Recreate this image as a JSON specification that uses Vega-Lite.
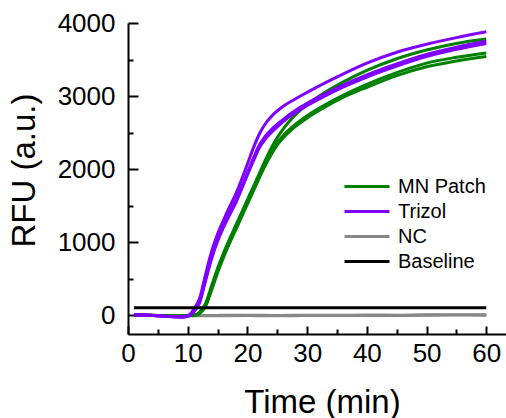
{
  "$schema": "https://vega.github.io/schema/vega-lite/v6.json",
  "width": 378,
  "height": 311,
  "autosize": "none",
  "padding": {"left": 128, "top": 23, "right": 0, "bottom": 84},
  "background": "white",
  "config": {
    "view": {"stroke": null},
    "font": "Liberation Sans",
    "axis": {"grid": false, "domainColor": "black", "domainWidth": 2, "tickColor": "black", "tickWidth": 2, "labelColor": "black", "titleColor": "black", "labelFont": "Liberation Sans", "titleFont": "Liberation Sans", "labelFontSize": 26, "titleFontSize": 33, "titleFontWeight": "normal", "labelFlush": false, "labelOverlap": false}
  },
  "datasets": {
    "curves": [
      {"group":"NC","rep":"N1","time":1,"rfu":0},{"group":"NC","rep":"N1","time":5,"rfu":-5},{"group":"NC","rep":"N1","time":10,"rfu":-8},{"group":"NC","rep":"N1","time":15,"rfu":-5},{"group":"NC","rep":"N1","time":20,"rfu":-3},{"group":"NC","rep":"N1","time":25,"rfu":-6},{"group":"NC","rep":"N1","time":30,"rfu":-2},{"group":"NC","rep":"N1","time":35,"rfu":-4},{"group":"NC","rep":"N1","time":40,"rfu":0},{"group":"NC","rep":"N1","time":45,"rfu":-2},{"group":"NC","rep":"N1","time":50,"rfu":3},{"group":"NC","rep":"N1","time":55,"rfu":5},{"group":"NC","rep":"N1","time":60,"rfu":5},
      {"group":"NC","rep":"N2","time":1,"rfu":-3},{"group":"NC","rep":"N2","time":5,"rfu":-8},{"group":"NC","rep":"N2","time":10,"rfu":-12},{"group":"NC","rep":"N2","time":15,"rfu":-10},{"group":"NC","rep":"N2","time":20,"rfu":-8},{"group":"NC","rep":"N2","time":25,"rfu":-10},{"group":"NC","rep":"N2","time":30,"rfu":-7},{"group":"NC","rep":"N2","time":35,"rfu":-8},{"group":"NC","rep":"N2","time":40,"rfu":-6},{"group":"NC","rep":"N2","time":45,"rfu":-5},{"group":"NC","rep":"N2","time":50,"rfu":-3},{"group":"NC","rep":"N2","time":55,"rfu":0},{"group":"NC","rep":"N2","time":60,"rfu":-2},

      {"group":"MN Patch","rep":"G1","time":1,"rfu":0},{"group":"MN Patch","rep":"G1","time":3,"rfu":-3},{"group":"MN Patch","rep":"G1","time":5,"rfu":-5},{"group":"MN Patch","rep":"G1","time":7,"rfu":-8},{"group":"MN Patch","rep":"G1","time":9,"rfu":-8},{"group":"MN Patch","rep":"G1","time":10,"rfu":-5},{"group":"MN Patch","rep":"G1","time":11,"rfu":0},{"group":"MN Patch","rep":"G1","time":11.5,"rfu":10},{"group":"MN Patch","rep":"G1","time":12,"rfu":40},{"group":"MN Patch","rep":"G1","time":13,"rfu":160},{"group":"MN Patch","rep":"G1","time":14,"rfu":400},{"group":"MN Patch","rep":"G1","time":15,"rfu":640},{"group":"MN Patch","rep":"G1","time":16,"rfu":850},{"group":"MN Patch","rep":"G1","time":17,"rfu":1040},{"group":"MN Patch","rep":"G1","time":18,"rfu":1220},{"group":"MN Patch","rep":"G1","time":19,"rfu":1400},{"group":"MN Patch","rep":"G1","time":20,"rfu":1580},{"group":"MN Patch","rep":"G1","time":21,"rfu":1760},{"group":"MN Patch","rep":"G1","time":22,"rfu":1940},{"group":"MN Patch","rep":"G1","time":23,"rfu":2120},{"group":"MN Patch","rep":"G1","time":24,"rfu":2290},{"group":"MN Patch","rep":"G1","time":25,"rfu":2430},{"group":"MN Patch","rep":"G1","time":26,"rfu":2550},{"group":"MN Patch","rep":"G1","time":27,"rfu":2650},{"group":"MN Patch","rep":"G1","time":28,"rfu":2740},{"group":"MN Patch","rep":"G1","time":30,"rfu":2880},{"group":"MN Patch","rep":"G1","time":33,"rfu":3050},{"group":"MN Patch","rep":"G1","time":36,"rfu":3190},{"group":"MN Patch","rep":"G1","time":40,"rfu":3350},{"group":"MN Patch","rep":"G1","time":45,"rfu":3510},{"group":"MN Patch","rep":"G1","time":50,"rfu":3630},{"group":"MN Patch","rep":"G1","time":55,"rfu":3720},{"group":"MN Patch","rep":"G1","time":60,"rfu":3780},

      {"group":"MN Patch","rep":"G2","time":1,"rfu":0},{"group":"MN Patch","rep":"G2","time":3,"rfu":-3},{"group":"MN Patch","rep":"G2","time":5,"rfu":-5},{"group":"MN Patch","rep":"G2","time":7,"rfu":-8},{"group":"MN Patch","rep":"G2","time":9,"rfu":-8},{"group":"MN Patch","rep":"G2","time":10,"rfu":-5},{"group":"MN Patch","rep":"G2","time":11,"rfu":-2},{"group":"MN Patch","rep":"G2","time":11.5,"rfu":5},{"group":"MN Patch","rep":"G2","time":12,"rfu":30},{"group":"MN Patch","rep":"G2","time":13,"rfu":140},{"group":"MN Patch","rep":"G2","time":14,"rfu":370},{"group":"MN Patch","rep":"G2","time":15,"rfu":610},{"group":"MN Patch","rep":"G2","time":16,"rfu":820},{"group":"MN Patch","rep":"G2","time":17,"rfu":1010},{"group":"MN Patch","rep":"G2","time":18,"rfu":1190},{"group":"MN Patch","rep":"G2","time":19,"rfu":1370},{"group":"MN Patch","rep":"G2","time":20,"rfu":1550},{"group":"MN Patch","rep":"G2","time":21,"rfu":1730},{"group":"MN Patch","rep":"G2","time":22,"rfu":1910},{"group":"MN Patch","rep":"G2","time":23,"rfu":2080},{"group":"MN Patch","rep":"G2","time":24,"rfu":2230},{"group":"MN Patch","rep":"G2","time":25,"rfu":2360},{"group":"MN Patch","rep":"G2","time":26,"rfu":2460},{"group":"MN Patch","rep":"G2","time":27,"rfu":2540},{"group":"MN Patch","rep":"G2","time":28,"rfu":2610},{"group":"MN Patch","rep":"G2","time":30,"rfu":2730},{"group":"MN Patch","rep":"G2","time":33,"rfu":2880},{"group":"MN Patch","rep":"G2","time":36,"rfu":3010},{"group":"MN Patch","rep":"G2","time":40,"rfu":3160},{"group":"MN Patch","rep":"G2","time":45,"rfu":3320},{"group":"MN Patch","rep":"G2","time":50,"rfu":3450},{"group":"MN Patch","rep":"G2","time":55,"rfu":3530},{"group":"MN Patch","rep":"G2","time":60,"rfu":3590},

      {"group":"MN Patch","rep":"G3","time":1,"rfu":0},{"group":"MN Patch","rep":"G3","time":3,"rfu":-4},{"group":"MN Patch","rep":"G3","time":5,"rfu":-6},{"group":"MN Patch","rep":"G3","time":7,"rfu":-9},{"group":"MN Patch","rep":"G3","time":9,"rfu":-9},{"group":"MN Patch","rep":"G3","time":10,"rfu":-6},{"group":"MN Patch","rep":"G3","time":11,"rfu":-3},{"group":"MN Patch","rep":"G3","time":11.5,"rfu":0},{"group":"MN Patch","rep":"G3","time":12,"rfu":20},{"group":"MN Patch","rep":"G3","time":13,"rfu":120},{"group":"MN Patch","rep":"G3","time":14,"rfu":340},{"group":"MN Patch","rep":"G3","time":15,"rfu":580},{"group":"MN Patch","rep":"G3","time":16,"rfu":790},{"group":"MN Patch","rep":"G3","time":17,"rfu":980},{"group":"MN Patch","rep":"G3","time":18,"rfu":1160},{"group":"MN Patch","rep":"G3","time":19,"rfu":1340},{"group":"MN Patch","rep":"G3","time":20,"rfu":1520},{"group":"MN Patch","rep":"G3","time":21,"rfu":1700},{"group":"MN Patch","rep":"G3","time":22,"rfu":1880},{"group":"MN Patch","rep":"G3","time":23,"rfu":2050},{"group":"MN Patch","rep":"G3","time":24,"rfu":2200},{"group":"MN Patch","rep":"G3","time":25,"rfu":2330},{"group":"MN Patch","rep":"G3","time":26,"rfu":2430},{"group":"MN Patch","rep":"G3","time":27,"rfu":2510},{"group":"MN Patch","rep":"G3","time":28,"rfu":2580},{"group":"MN Patch","rep":"G3","time":30,"rfu":2700},{"group":"MN Patch","rep":"G3","time":33,"rfu":2850},{"group":"MN Patch","rep":"G3","time":36,"rfu":2980},{"group":"MN Patch","rep":"G3","time":40,"rfu":3120},{"group":"MN Patch","rep":"G3","time":45,"rfu":3280},{"group":"MN Patch","rep":"G3","time":50,"rfu":3400},{"group":"MN Patch","rep":"G3","time":55,"rfu":3480},{"group":"MN Patch","rep":"G3","time":60,"rfu":3540},

      {"group":"Trizol","rep":"P1","time":1,"rfu":5},{"group":"Trizol","rep":"P1","time":3,"rfu":0},{"group":"Trizol","rep":"P1","time":5,"rfu":-10},{"group":"Trizol","rep":"P1","time":7,"rfu":-20},{"group":"Trizol","rep":"P1","time":9,"rfu":-25},{"group":"Trizol","rep":"P1","time":10,"rfu":-10},{"group":"Trizol","rep":"P1","time":10.5,"rfu":20},{"group":"Trizol","rep":"P1","time":11,"rfu":80},{"group":"Trizol","rep":"P1","time":12,"rfu":230},{"group":"Trizol","rep":"P1","time":13,"rfu":560},{"group":"Trizol","rep":"P1","time":14,"rfu":870},{"group":"Trizol","rep":"P1","time":15,"rfu":1110},{"group":"Trizol","rep":"P1","time":16,"rfu":1300},{"group":"Trizol","rep":"P1","time":17,"rfu":1480},{"group":"Trizol","rep":"P1","time":18,"rfu":1650},{"group":"Trizol","rep":"P1","time":19,"rfu":1850},{"group":"Trizol","rep":"P1","time":20,"rfu":2070},{"group":"Trizol","rep":"P1","time":21,"rfu":2290},{"group":"Trizol","rep":"P1","time":22,"rfu":2480},{"group":"Trizol","rep":"P1","time":23,"rfu":2620},{"group":"Trizol","rep":"P1","time":24,"rfu":2720},{"group":"Trizol","rep":"P1","time":26,"rfu":2860},{"group":"Trizol","rep":"P1","time":28,"rfu":2960},{"group":"Trizol","rep":"P1","time":30,"rfu":3050},{"group":"Trizol","rep":"P1","time":33,"rfu":3180},{"group":"Trizol","rep":"P1","time":36,"rfu":3300},{"group":"Trizol","rep":"P1","time":40,"rfu":3450},{"group":"Trizol","rep":"P1","time":45,"rfu":3600},{"group":"Trizol","rep":"P1","time":50,"rfu":3710},{"group":"Trizol","rep":"P1","time":55,"rfu":3800},{"group":"Trizol","rep":"P1","time":60,"rfu":3880},

      {"group":"Trizol","rep":"P2","time":1,"rfu":5},{"group":"Trizol","rep":"P2","time":3,"rfu":0},{"group":"Trizol","rep":"P2","time":5,"rfu":-10},{"group":"Trizol","rep":"P2","time":7,"rfu":-22},{"group":"Trizol","rep":"P2","time":9,"rfu":-28},{"group":"Trizol","rep":"P2","time":10,"rfu":-15},{"group":"Trizol","rep":"P2","time":10.5,"rfu":5},{"group":"Trizol","rep":"P2","time":11,"rfu":50},{"group":"Trizol","rep":"P2","time":12,"rfu":190},{"group":"Trizol","rep":"P2","time":13,"rfu":500},{"group":"Trizol","rep":"P2","time":14,"rfu":800},{"group":"Trizol","rep":"P2","time":15,"rfu":1040},{"group":"Trizol","rep":"P2","time":16,"rfu":1230},{"group":"Trizol","rep":"P2","time":17,"rfu":1400},{"group":"Trizol","rep":"P2","time":18,"rfu":1560},{"group":"Trizol","rep":"P2","time":19,"rfu":1750},{"group":"Trizol","rep":"P2","time":20,"rfu":1950},{"group":"Trizol","rep":"P2","time":21,"rfu":2150},{"group":"Trizol","rep":"P2","time":22,"rfu":2330},{"group":"Trizol","rep":"P2","time":23,"rfu":2450},{"group":"Trizol","rep":"P2","time":24,"rfu":2540},{"group":"Trizol","rep":"P2","time":26,"rfu":2680},{"group":"Trizol","rep":"P2","time":28,"rfu":2800},{"group":"Trizol","rep":"P2","time":30,"rfu":2900},{"group":"Trizol","rep":"P2","time":33,"rfu":3030},{"group":"Trizol","rep":"P2","time":36,"rfu":3150},{"group":"Trizol","rep":"P2","time":40,"rfu":3290},{"group":"Trizol","rep":"P2","time":45,"rfu":3440},{"group":"Trizol","rep":"P2","time":50,"rfu":3570},{"group":"Trizol","rep":"P2","time":55,"rfu":3670},{"group":"Trizol","rep":"P2","time":60,"rfu":3750},

      {"group":"Trizol","rep":"P3","time":1,"rfu":5},{"group":"Trizol","rep":"P3","time":3,"rfu":0},{"group":"Trizol","rep":"P3","time":5,"rfu":-12},{"group":"Trizol","rep":"P3","time":7,"rfu":-22},{"group":"Trizol","rep":"P3","time":9,"rfu":-30},{"group":"Trizol","rep":"P3","time":10,"rfu":-18},{"group":"Trizol","rep":"P3","time":10.5,"rfu":0},{"group":"Trizol","rep":"P3","time":11,"rfu":40},{"group":"Trizol","rep":"P3","time":12,"rfu":170},{"group":"Trizol","rep":"P3","time":13,"rfu":470},{"group":"Trizol","rep":"P3","time":14,"rfu":770},{"group":"Trizol","rep":"P3","time":15,"rfu":1010},{"group":"Trizol","rep":"P3","time":16,"rfu":1200},{"group":"Trizol","rep":"P3","time":17,"rfu":1370},{"group":"Trizol","rep":"P3","time":18,"rfu":1530},{"group":"Trizol","rep":"P3","time":19,"rfu":1720},{"group":"Trizol","rep":"P3","time":20,"rfu":1920},{"group":"Trizol","rep":"P3","time":21,"rfu":2110},{"group":"Trizol","rep":"P3","time":22,"rfu":2290},{"group":"Trizol","rep":"P3","time":23,"rfu":2410},{"group":"Trizol","rep":"P3","time":24,"rfu":2500},{"group":"Trizol","rep":"P3","time":26,"rfu":2650},{"group":"Trizol","rep":"P3","time":28,"rfu":2770},{"group":"Trizol","rep":"P3","time":30,"rfu":2870},{"group":"Trizol","rep":"P3","time":33,"rfu":3000},{"group":"Trizol","rep":"P3","time":36,"rfu":3120},{"group":"Trizol","rep":"P3","time":40,"rfu":3260},{"group":"Trizol","rep":"P3","time":45,"rfu":3410},{"group":"Trizol","rep":"P3","time":50,"rfu":3540},{"group":"Trizol","rep":"P3","time":55,"rfu":3640},{"group":"Trizol","rep":"P3","time":60,"rfu":3720},

      {"group":"Baseline","rep":"B","time":1,"rfu":100},{"group":"Baseline","rep":"B","time":60,"rfu":100}
    ]
  },
  "data": {"name": "curves"},
  "mark": {"type": "line", "strokeWidth": 3, "interpolate": "monotone", "clip": true},
  "encoding": {
    "x": {
      "field": "time", "type": "quantitative",
      "scale": {"domain": [0, 63.3], "nice": false, "zero": false},
      "axis": {
        "title": "Time (min)",
        "values": [0,5,10,15,20,25,30,35,40,45,50,55,60],
        "labelExpr": "datum.value % 10 === 0 ? datum.label : ''",
        "tickSize": {"condition": {"test": "datum.value % 10 !== 0", "value": -5}, "value": -8},
        "labelPadding": 14,
        "titleX": 194, "titleY": 78, "titleBaseline": "alphabetic", "titleAlign": "center"
      }
    },
    "y": {
      "field": "rfu", "type": "quantitative",
      "scale": {"domain": [-260, 4000], "nice": false, "zero": false},
      "axis": {
        "title": "RFU (a.u.)",
        "values": [0,500,1000,1500,2000,2500,3000,3500,4000],
        "labelExpr": "datum.value % 1000 === 0 ? datum.label : ''",
        "format": "d",
        "tickSize": {"condition": {"test": "datum.value % 1000 !== 0", "value": -5}, "value": -10},
        "labelPadding": 23,
        "titleX": -94, "titleY": 147, "titleAngle": -90, "titleBaseline": "alphabetic", "titleAlign": "center"
      }
    },
    "color": {
      "field": "group", "type": "nominal",
      "scale": {"domain": ["MN Patch", "Trizol", "NC", "Baseline"], "range": ["#008000", "#8000ff", "#888888", "#000000"]},
      "legend": {
        "title": null, "orient": "none", "legendX": 215, "legendY": 151,
        "symbolType": "stroke", "symbolSize": 2025, "symbolStrokeWidth": 3,
        "labelFontSize": 20, "labelFont": "Liberation Sans", "labelColor": "black",
        "labelOffset": 7, "clipHeight": 25, "rowPadding": 0, "padding": 0
      }
    },
    "detail": {"field": "rep", "type": "nominal"}
  }
}
